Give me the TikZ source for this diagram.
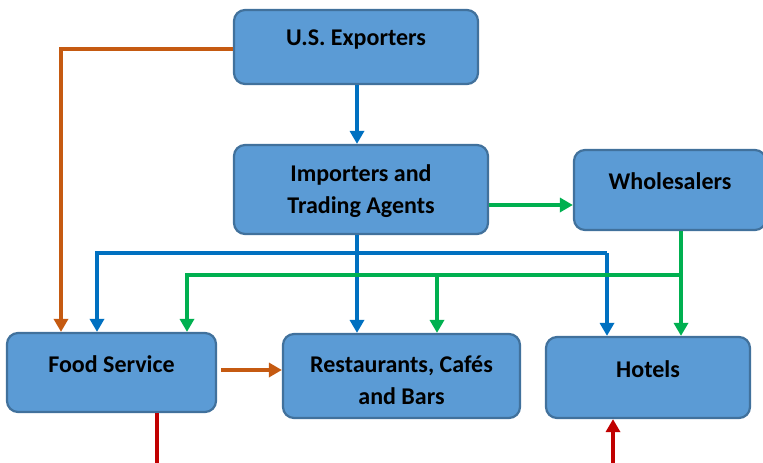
\documentclass[tikz,border=0pt]{standalone}
\usepackage{fontspec}
\setmainfont{Carlito}
\usetikzlibrary{arrows.meta}
\definecolor{boxfill}{HTML}{5B9BD5}
\definecolor{boxline}{HTML}{41719C}
\definecolor{flowblue}{HTML}{0070C0}
\definecolor{flowgreen}{HTML}{00B050}
\definecolor{floworange}{HTML}{C55A11}
\definecolor{flowred}{HTML}{C00000}
\tikzset{
  box/.style={draw=boxline, fill=boxfill, line width=2.2pt, rounded corners=11pt,
    inner sep=0pt},
  lbl/.style={font=\fontsize{24}{32}\selectfont\bfseries, align=center, inner sep=0pt},
  flow/.style={line width=3.6pt, -{Triangle[width=14pt,length=13pt]}},
  plain/.style={line width=3.6pt},
}
\begin{document}
\begin{tikzpicture}[x=1pt,y=-1pt]
\useasboundingbox (0,0) rectangle (763,463);
\begin{scope}
\clip (0,0) rectangle (763,463);
% boxes
\node[box, minimum width=244pt, minimum height=74pt] (exp) at (356,47) {};
\node[box, minimum width=254pt, minimum height=89pt] (imp) at (361,189.5) {};
\node[box, minimum width=192pt, minimum height=80pt] (whl) at (670,190) {};
\node[box, minimum width=209pt, minimum height=79pt] (fs) at (111.5,372.5) {};
\node[box, minimum width=237pt, minimum height=84pt] (rcb) at (401.5,376) {};
\node[box, minimum width=204pt, minimum height=81pt] (hot) at (648,377.5) {};
% labels
\node[lbl] at (356,40) {U.S. Exporters};
\node[lbl] at (361,191) {Importers and\\Trading Agents};
\node[lbl] at (670,181) {Wholesalers};
\node[lbl] at (111.5,364) {Food Service};
\node[lbl] at (401.5,380) {Restaurants, Cafés\\and Bars};
\node[lbl] at (648,369) {Hotels};
% junction points
\coordinate (bL) at (97,253);
\coordinate (bR) at (607,253);
\coordinate (gL) at (187,275);
\coordinate (gM) at (437,275);
\coordinate (gR) at (681,275);
\coordinate (oC) at (61,49);
\coordinate (rA) at (157,470);
\coordinate (rB) at (613,470);
% orange: exporters to food service
\draw[flow, floworange] (exp.west |- oC) -- (oC) -- (oC |- fs.north);
% blue: exporters to importers, importers to outlets
\draw[flow, flowblue] (exp.south -| 357,0) -- (imp.north -| 357,0);
\draw[flow, flowblue] (imp.south -| 357,0) -- (rcb.north -| 357,0);
\draw[flow, flowblue] (bR) -- (bL) -- (bL |- fs.north);
\draw[flow, flowblue] (bR) -- (bR |- hot.north);
% green: importers to wholesalers, wholesalers to outlets
\draw[flow, flowgreen] (imp.east |- 0,205) -- (whl.west |- 0,205);
\draw[flow, flowgreen] (whl.south -| gR) -- (gR |- hot.north);
\draw[flow, flowgreen] (gR) -- (gL) -- (gL |- fs.north);
\draw[flow, flowgreen] (gM) -- (gM |- rcb.north);
% orange: food service to restaurants
\draw[flow, floworange] (221,370) -- (rcb.west |- 0,370);
% red: food service down, up into hotels
\draw[plain, flowred] (fs.south -| rA) -- (rA);
\draw[flow, flowred] (rB) -- (rB |- hot.south);
\end{scope}
\end{tikzpicture}
\end{document}
